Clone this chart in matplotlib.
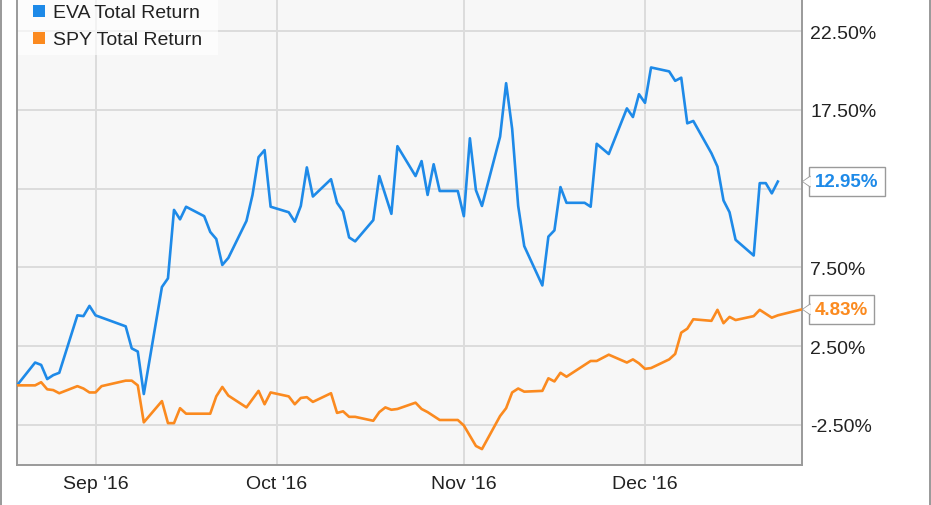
import matplotlib
matplotlib.use('Agg')
import matplotlib.pyplot as plt
from matplotlib.patches import Rectangle, Polygon
from matplotlib.lines import Line2D
import pandas as pd

# EVA total return (%)
eva_dates = ['2016-08-19', '2016-08-22', '2016-08-23', '2016-08-24', '2016-08-25', '2016-08-26',
             '2016-08-29', '2016-08-30', '2016-08-31', '2016-09-01', '2016-09-06', '2016-09-07',
             '2016-09-08', '2016-09-09', '2016-09-12', '2016-09-13', '2016-09-14', '2016-09-15',
             '2016-09-16', '2016-09-19', '2016-09-20', '2016-09-21', '2016-09-22', '2016-09-23',
             '2016-09-26', '2016-09-27', '2016-09-28', '2016-09-29', '2016-09-30', '2016-10-03',
             '2016-10-04', '2016-10-05', '2016-10-06', '2016-10-07', '2016-10-10', '2016-10-11',
             '2016-10-12', '2016-10-13', '2016-10-14', '2016-10-17', '2016-10-18', '2016-10-20',
             '2016-10-21', '2016-10-24', '2016-10-25', '2016-10-26', '2016-10-27', '2016-10-28',
             '2016-10-31', '2016-11-01', '2016-11-02', '2016-11-03', '2016-11-04', '2016-11-07',
             '2016-11-08', '2016-11-09', '2016-11-10', '2016-11-11', '2016-11-14', '2016-11-15',
             '2016-11-16', '2016-11-17', '2016-11-18', '2016-11-21', '2016-11-22', '2016-11-23',
             '2016-11-25', '2016-11-28', '2016-11-29', '2016-11-30', '2016-12-01', '2016-12-02',
             '2016-12-05', '2016-12-06', '2016-12-07', '2016-12-08', '2016-12-09', '2016-12-12',
             '2016-12-13', '2016-12-14', '2016-12-15', '2016-12-16', '2016-12-19', '2016-12-20',
             '2016-12-21', '2016-12-22', '2016-12-23']
eva_vals = [0.0, 1.45, 1.3, 0.4, 0.65, 0.8,
            4.45, 4.4, 5.05, 4.45, 3.75, 2.35,
            2.15, -0.55, 6.25, 6.8, 11.15, 10.55,
            11.35, 10.75, 9.75, 9.3, 7.65, 8.1,
            10.45, 12.1, 14.5, 14.95, 11.35, 11.0,
            10.4, 11.4, 13.85, 12.0, 13.1, 11.6,
            11.05, 9.4, 9.15, 10.5, 13.3, 10.9,
            15.2, 13.3, 14.25, 12.1, 14.05, 12.35,
            12.35, 10.75, 15.7, 12.4, 11.4, 15.8,
            19.2, 16.3, 11.4, 8.85, 6.35, 9.45,
            9.85, 12.6, 11.6, 11.6, 11.35, 15.35,
            14.7, 17.6, 17.05, 18.5, 17.95, 20.2,
            19.95, 19.35, 19.55, 16.65, 16.8, 14.75,
            13.9, 11.75, 11.0, 9.25, 8.25, 12.85,
            12.85, 12.2, 12.95]

# SPY total return (%)
spy_dates = ['2016-08-19', '2016-08-22', '2016-08-23', '2016-08-24', '2016-08-25', '2016-08-26',
             '2016-08-29', '2016-08-30', '2016-08-31', '2016-09-01', '2016-09-02', '2016-09-06',
             '2016-09-07', '2016-09-08', '2016-09-09', '2016-09-12', '2016-09-13', '2016-09-14',
             '2016-09-15', '2016-09-16', '2016-09-19', '2016-09-20', '2016-09-21', '2016-09-22',
             '2016-09-23', '2016-09-26', '2016-09-28', '2016-09-29', '2016-09-30', '2016-10-03',
             '2016-10-04', '2016-10-05', '2016-10-06', '2016-10-07', '2016-10-10', '2016-10-11',
             '2016-10-12', '2016-10-13', '2016-10-14', '2016-10-17', '2016-10-18', '2016-10-19',
             '2016-10-20', '2016-10-21', '2016-10-24', '2016-10-25', '2016-10-26', '2016-10-28',
             '2016-10-31', '2016-11-01', '2016-11-02', '2016-11-03', '2016-11-04', '2016-11-07',
             '2016-11-08', '2016-11-09', '2016-11-10', '2016-11-11', '2016-11-14', '2016-11-15',
             '2016-11-16', '2016-11-17', '2016-11-18', '2016-11-21', '2016-11-22', '2016-11-23',
             '2016-11-25', '2016-11-28', '2016-11-29', '2016-11-30', '2016-12-01', '2016-12-02',
             '2016-12-05', '2016-12-06', '2016-12-07', '2016-12-08', '2016-12-09', '2016-12-12',
             '2016-12-13', '2016-12-14', '2016-12-15', '2016-12-16', '2016-12-19', '2016-12-20',
             '2016-12-21', '2016-12-22', '2016-12-23', '2016-12-27']
spy_vals = [0.0, 0.0, 0.2, -0.25, -0.3, -0.5,
            -0.05, -0.2, -0.45, -0.45, -0.05, 0.3,
            0.3, 0.0, -2.35, -1.0, -2.4, -2.4,
            -1.45, -1.8, -1.8, -1.8, -0.7, -0.1,
            -0.65, -1.4, -0.35, -1.2, -0.45, -0.7,
            -1.2, -0.8, -0.75, -1.05, -0.5, -1.75,
            -1.65, -2.0, -2.0, -2.25, -1.7, -1.4,
            -1.55, -1.5, -1.1, -1.5, -1.7, -2.2,
            -2.2, -2.55, -3.2, -3.85, -4.05, -1.95,
            -1.45, -0.45, -0.2, -0.4, -0.35, 0.45,
            0.25, 0.8, 0.55, 1.3, 1.55, 1.55,
            1.95, 1.45, 1.65, 1.4, 1.05, 1.1,
            1.65, 2.0, 3.35, 3.6, 4.2, 4.1,
            4.8, 3.95, 4.35, 4.15, 4.4, 4.8,
            4.55, 4.3, 4.45, 4.83]

series_names = ['EVA Total Return', 'SPY Total Return']
last_labels = ['12.95%', '4.83%']
y_ticks = [-2.5, 2.5, 7.5, 12.5, 17.5, 22.5]
# 12.50% sits under the EVA badge in the original, so its label is left empty
y_labels = ['-2.50%', '2.50%', '7.50%', '', '17.50%', '22.50%']
month_ticks = ['2016-09-01', '2016-10-01', '2016-11-01', '2016-12-01']
month_labels = ["Sep '16", "Oct '16", "Nov '16", "Dec '16"]

BLUE = '#1e8ae8'
ORANGE = '#fb8a1f'
GRID = '#dcdcdc'
EDGE = '#9a9a9a'
FS = 14

W, H = 931, 506
plt.rcParams['font.family'] = ['Liberation Sans', 'DejaVu Sans']

fig = plt.figure(figsize=(W / 100, H / 100), dpi=100)
fig.patch.set_facecolor('white')
ax = fig.add_axes([17 / W, 1 - 466 / H, 785 / W, 466 / H])
ax.set_facecolor('#f7f7f7')

eva_x = pd.to_datetime(eva_dates)
spy_x = pd.to_datetime(spy_dates)
ax.plot(eva_x, eva_vals, color=BLUE, lw=1.9, zorder=3, solid_joinstyle='round')
ax.plot(spy_x, spy_vals, color=ORANGE, lw=1.9, zorder=3, solid_joinstyle='round')

ax.set_xlim(pd.Timestamp('2016-08-19'), pd.Timestamp('2016-12-27'))
ax.set_ylim(-5.06, 24.55)
ax.set_xticks(pd.to_datetime(month_ticks))
ax.set_xticklabels(month_labels)
ax.set_yticks(y_ticks)
ax.set_yticklabels(y_labels)
ax.yaxis.tick_right()
ax.tick_params(length=0, labelsize=FS, colors='#222222')
ax.tick_params(axis='y', pad=6)
ax.tick_params(axis='x', pad=7)
ax.grid(True, color=GRID, lw=1.4)
ax.set_axisbelow(True)
for s in ['left', 'right', 'bottom']:
    ax.spines[s].set_color(EDGE)
    ax.spines[s].set_linewidth(1.4)
ax.spines['top'].set_visible(False)


def fx(px):
    return px / W


def fy(py):
    return 1 - py / H


# legend box, top left
fig.patches.append(Rectangle((fx(18), fy(56)), fx(200), 56 / H, transform=fig.transFigure,
                             facecolor='white', alpha=0.65, edgecolor='none', zorder=5))
for i, (name, col) in enumerate(zip(series_names, [BLUE, ORANGE])):
    yc = 12 + 27 * i
    fig.patches.append(Rectangle((fx(33), fy(yc + 6)), 12 / W, 12 / H, transform=fig.transFigure,
                                 facecolor=col, edgecolor='none', zorder=6))
    fig.text(fx(53), fy(yc + 1.5), name, fontsize=FS, color='#222222', va='center', ha='left', zorder=6)

# last value badges on the right axis
inv = fig.transFigure.inverted()
for lab, col, vals in zip(last_labels, [BLUE, ORANGE], [eva_vals, spy_vals]):
    ypix = ax.transData.transform((0, vals[-1]))[1]
    yf = inv.transform((0, ypix))[1]
    fig.text(fx(815), yf, lab, fontsize=13.5, fontweight='bold', color=col,
             va='center', ha='left', zorder=8,
             bbox=dict(boxstyle='square,pad=0.33', facecolor='white', edgecolor=EDGE, lw=1.0))
    tip = 803
    dy = 5 / H
    fig.patches.append(Polygon([(fx(tip), yf), (fx(810.5), yf + dy), (fx(810.5), yf - dy)],
                               closed=True, transform=fig.transFigure, facecolor='white',
                               edgecolor='none', zorder=9))
    fig.lines.append(Line2D([fx(810), fx(tip), fx(810)], [yf + dy, yf, yf - dy],
                            transform=fig.transFigure, color=EDGE, lw=1.0, zorder=9))

# outer frame lines
fig.lines.append(Line2D([fx(0.5), fx(0.5)], [0, 1], transform=fig.transFigure, color='#888888', lw=1.2))
fig.lines.append(Line2D([fx(929.5), fx(929.5)], [0, 1], transform=fig.transFigure, color='#888888', lw=1.2))

fig.savefig('out.png', dpi=100)
